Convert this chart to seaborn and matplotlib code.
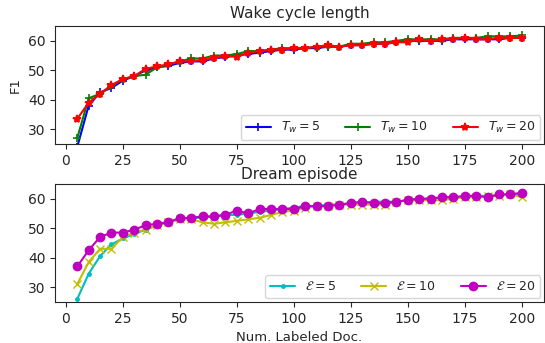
import numpy as np
import pandas as pd
import matplotlib
matplotlib.use('Agg')
import matplotlib.pyplot as plt
import seaborn as sns

# =============================================
# Data
num_docs = list(range(5, 201, 5))

wake_tw5 = [24, 38, 42.5, 44, 46.5, 48, 50, 51, 51.5, 52.5, 53, 53, 54, 54.5, 55, 55.5, 56, 56.5, 57, 57,
            57.5, 57.5, 58, 58, 58.5, 58.5, 59, 59, 59.5, 60, 60, 60, 60, 60.5, 60.5, 60.5, 60.5, 60.5, 61, 61]
wake_tw10 = [27, 40.5, 42, 44.5, 47, 48, 48.5, 51, 52, 53, 54, 54, 55, 55, 55.5, 56.5, 56.5, 57, 57.5, 57.5,
             57.5, 58, 58, 58, 59, 59, 59.5, 59.5, 60, 60.5, 60.5, 60.5, 60.5, 61, 61, 61, 61.5, 61.5, 61.5, 61.8]
wake_tw20 = [33.5, 39, 42, 45, 47, 48, 50.5, 51.3, 52, 53, 53, 53.5, 54, 55, 54.5, 56, 56.5, 57, 57, 57.5,
             57.5, 58, 58.5, 58, 58.5, 58.5, 59, 59, 59.5, 59.5, 60.5, 60, 60.5, 60.5, 61, 60.5, 60.5, 61, 61, 61]

dream_e5 = [26, 34.5, 40.5, 44.5, 46.5, 48, 49.5, 51, 52, 53, 53.5, 53.5, 54, 54.5, 54.5, 55, 55.5, 56, 56.5, 57,
            57.5, 57.5, 58, 58, 58.5, 58.5, 59, 59, 59, 59.5, 60, 60, 60.5, 60.5, 60.5, 61, 61, 61, 61.5, 61.5]
dream_e10 = [31, 38.5, 43, 43, 47, 48.5, 49.5, 51, 52, 53, 53, 52, 51.5, 52, 52.5, 53, 53.5, 54.5, 55.5, 56,
             57, 57.5, 57.5, 58, 58, 58, 58, 58, 59, 59.5, 59.5, 59.5, 59.5, 60, 60.5, 60.5, 61, 61, 61.5, 60.5]
dream_e20 = [37, 42.5, 47, 48.5, 48.5, 49.5, 51, 51.5, 52, 53.5, 53.5, 54, 54, 54.5, 56, 55, 56.5, 56.5, 56.5, 56.5,
             57.5, 57.5, 57.5, 58, 58.5, 59, 58.5, 58.5, 59, 59.5, 60, 60, 60.5, 60.5, 61, 61, 60.5, 61.5, 61.5, 62]

sns.set_style("ticks")
plt.rcParams['font.family'] = ['DejaVu Sans']

fig, ax = plt.subplots(2, 1, figsize=(5.45, 3.43), dpi=100)
fig.subplots_adjust(left=0.101, right=0.998, top=0.924, bottom=0.12, hspace=0.34)

# =============================================
# Top panel: wake cycle length
wake = [(wake_tw5, 'b', '+', 6, r'$T_w = 5$'),
        (wake_tw10, 'g', '+', 6, r'$T_w = 10$'),
        (wake_tw20, 'r', '*', 6, r'$T_w = 20$')]
for vals, col, mk, ms, lab in wake:
    sns.lineplot(x=num_docs, y=vals, color=col, marker=mk, markersize=ms, linewidth=1.5,
                 markeredgecolor=col, markeredgewidth=1.2, label=lab, ax=ax[0])

ax[0].set_title('Wake cycle length', fontsize=11)
ax[0].set_ylabel('F1', fontsize=9.5)

# =============================================
# Bottom panel: dream episode
dream = [(dream_e5, 'c', '.', 5, r'$\mathcal{E} = 5$'),
         (dream_e10, 'y', 'x', 5.5, r'$\mathcal{E} = 10$'),
         (dream_e20, 'm', 'o', 6, r'$\mathcal{E} = 20$')]
for vals, col, mk, ms, lab in dream:
    sns.lineplot(x=num_docs, y=vals, color=col, marker=mk, markersize=ms, linewidth=1.5,
                 markeredgecolor=col, markeredgewidth=1.0, label=lab, ax=ax[1])

ax[1].set_title('Dream episode', fontsize=11, pad=3.5)
ax[1].set_xlabel('Num. Labeled Doc.', fontsize=9.5)

for a in ax:
    a.set_ylim(25, 65)
    a.set_yticks([30, 40, 50, 60])
    a.set_xticks([0, 25, 50, 75, 100, 125, 150, 175, 200])
    a.tick_params(labelsize=10)
    a.legend(loc='lower right', ncol=3, fontsize=9, handlelength=2.0, columnspacing=2.0,
             borderaxespad=0.3)

plt.savefig('out.png', dpi=100)
